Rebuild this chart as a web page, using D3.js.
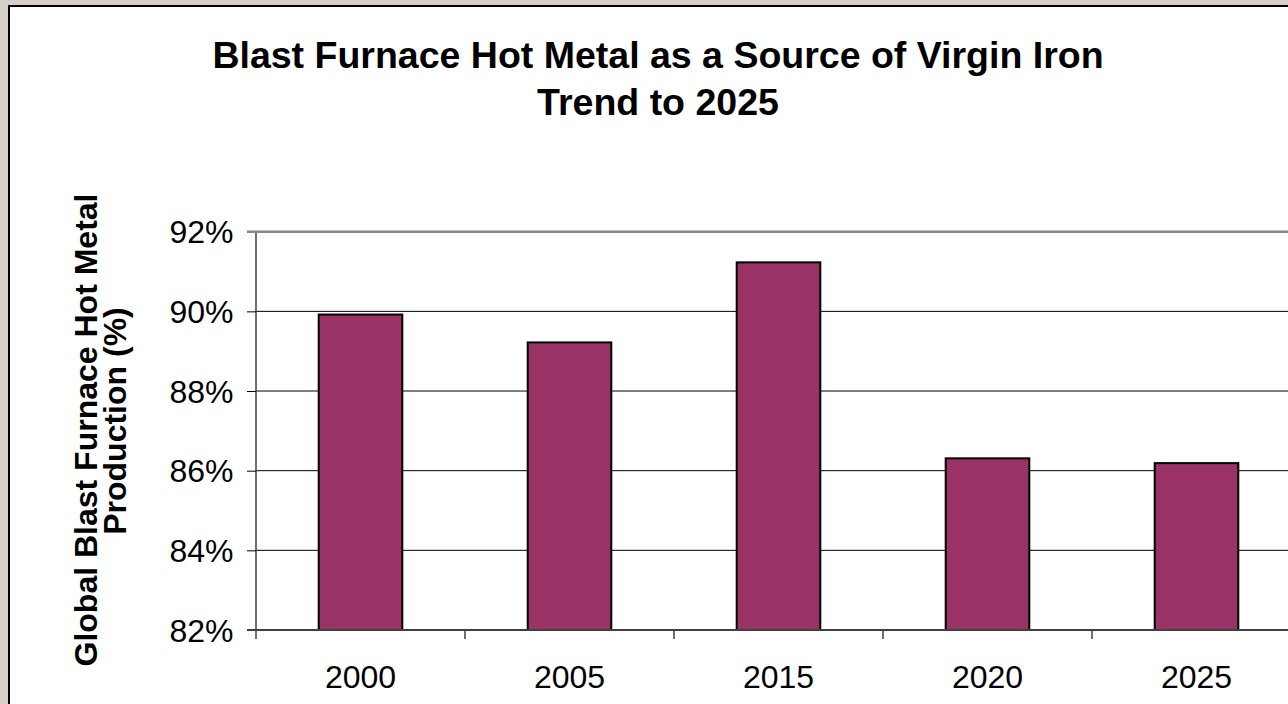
<!DOCTYPE html>
<html>
<head>
<meta charset="utf-8">
<script src="https://cdn.jsdelivr.net/npm/d3@7"></script>
<style>
  body { margin: 0; background: #D4D0C8; }
  svg { display: block; font-family: Arial, "Liberation Sans", sans-serif; }
</style>
</head>
<body>
<svg width="1288" height="704"></svg>
<script>
var years = ["2000", "2005", "2015", "2020", "2025"];
var shares = [0.8992, 0.8922, 0.9123, 0.8631, 0.8619];
var yTicks = [0.82, 0.84, 0.86, 0.88, 0.90, 0.92];
var titleLines = ["Blast Furnace Hot Metal as a Source of Virgin Iron", "Trend to 2025"];
var yTitleLines = ["Global Blast Furnace Hot Metal", "Production (%)"];

var svg = d3.select("svg");
var plot = {left: 256, right: 1301, top: 231.7, bottom: 630};

// background frame
svg.append("rect").attr("width", 1288).attr("height", 704).attr("fill", "#D4D0C8");
svg.append("rect")
    .attr("x", 9).attr("y", 6).attr("width", 1320).attr("height", 800)
    .attr("fill", "#fff").attr("stroke", "#000").attr("stroke-width", 2);

var x = d3.scaleBand()
    .domain(years)
    .range([plot.left, plot.right])
    .paddingInner(0.6)
    .paddingOuter(0.3);

var y = d3.scaleLinear()
    .domain([0.82, 0.92])
    .range([plot.bottom, plot.top]);

// gridlines
svg.append("g")
  .selectAll("line")
  .data(yTicks.slice(1, -1))
  .enter().append("line")
    .attr("x1", plot.left).attr("x2", plot.right)
    .attr("y1", function(d) { return y(d); })
    .attr("y2", function(d) { return y(d); })
    .attr("stroke", "#000").attr("stroke-width", 1);

// y axis
var yAxis = svg.append("g")
    .attr("transform", "translate(" + plot.left + ",0)")
    .call(d3.axisLeft(y).tickValues(yTicks).tickFormat(d3.format(".0%")).tickSize(9).tickPadding(13.5));
yAxis.select(".domain").attr("stroke", "#404040").attr("stroke-width", 1.5).attr("d", "M0," + plot.top + "V" + (plot.bottom + 9));
yAxis.selectAll(".tick line").attr("stroke", "#000").attr("stroke-width", 1);
yAxis.selectAll("text").attr("font-size", 32).attr("fill", "#000").attr("dy", "0.35em");

// plot area top border (grey)
svg.append("line")
    .attr("x1", plot.left - 9).attr("x2", plot.right)
    .attr("y1", y(0.92)).attr("y2", y(0.92))
    .attr("stroke", "#888").attr("stroke-width", 2.5);

// bars
svg.append("g")
  .selectAll("rect")
  .data(years)
  .enter().append("rect")
    .attr("x", function(d) { return x(d); })
    .attr("width", x.bandwidth())
    .attr("y", function(d, i) { return y(shares[i]); })
    .attr("height", function(d, i) { return y(0.82) - y(shares[i]); })
    .attr("fill", "#993366")
    .attr("stroke", "#000")
    .attr("stroke-width", 2);

// x axis
var xAxis = svg.append("g")
    .attr("transform", "translate(0," + plot.bottom + ")")
    .call(d3.axisBottom(x).tickSize(0).tickPadding(35.3));
xAxis.select(".domain").attr("stroke", "#404040").attr("stroke-width", 2).attr("d", "M" + (plot.left - 9) + ",0H" + plot.right);
xAxis.selectAll("text").attr("font-size", 32).attr("fill", "#000");

// category boundary ticks
var gap = (x.step() - x.bandwidth()) / 2;
xAxis.append("g")
  .selectAll("line")
  .data(years.slice(1).concat(["end"]))
  .enter().append("line")
    .attr("x1", function(d, i) { return x(years[i]) + x.bandwidth() + gap; })
    .attr("x2", function(d, i) { return x(years[i]) + x.bandwidth() + gap; })
    .attr("y1", 0).attr("y2", 9)
    .attr("stroke", "#404040").attr("stroke-width", 1.5);

// title
svg.append("text")
    .attr("x", 658).attr("y", 68)
    .attr("text-anchor", "middle")
    .attr("font-size", 37.5).attr("font-weight", "bold")
    .text(titleLines[0]);
svg.append("text")
    .attr("x", 658).attr("y", 115)
    .attr("text-anchor", "middle")
    .attr("font-size", 37.5).attr("font-weight", "bold")
    .text(titleLines[1]);

// y axis title
svg.append("text")
    .attr("transform", "translate(97,430) rotate(-90)")
    .attr("text-anchor", "middle")
    .attr("font-size", 32).attr("font-weight", "bold")
    .text(yTitleLines[0]);
svg.append("text")
    .attr("transform", "translate(125.7,421) rotate(-90)")
    .attr("text-anchor", "middle")
    .attr("font-size", 32).attr("font-weight", "bold")
    .text(yTitleLines[1]);
</script>
</body>
</html>
